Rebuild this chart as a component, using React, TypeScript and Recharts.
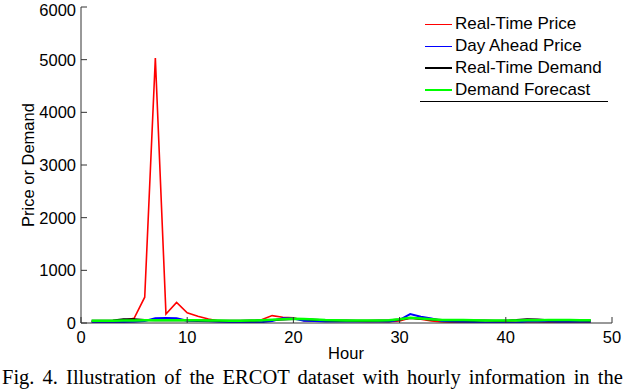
import { Legend, Line, LineChart, XAxis, YAxis } from "recharts";

const hours = Array.from({ length: 48 }, (_, i) => i + 1);

const realTimePrice = [
  20, 22, 25, 45, 90, 490, 5030, 170, 390, 195, 130, 75, 35, 30, 28, 27, 60, 140, 110, 100, 45, 40, 35, 33,
  32, 32, 30, 30, 25, 40, 95, 70, 40, 20, 15, 8, 6, 6, 10, 15, 20, 25, 20, 12, 6, 5, 6, 6,
];
const dayAheadPrice = [
  20, 18, 18, 20, 22, 40, 90, 95, 90, 45, 40, 35, 25, 20, 15, 13, 15, 40, 90, 85, 45, 40, 30, 30,
  30, 30, 30, 30, 30, 60, 170, 120, 85, 40, 30, 25, 20, 10, 6, 6, 8, 30, 30, 30, 25, 25, 25, 25,
];
const realTimeDemand = [
  42, 42, 48, 70, 70, 55, 52, 52, 52, 50, 48, 46, 45, 44, 44, 46, 50, 58, 68, 75, 74, 62, 53, 48,
  46, 45, 45, 46, 50, 68, 95, 80, 66, 55, 52, 52, 48, 46, 45, 45, 55, 70, 68, 52, 52, 52, 50, 48,
];
const demandForecast = [
  45, 44, 44, 46, 48, 50, 52, 53, 53, 52, 50, 48, 46, 45, 45, 47, 52, 60, 70, 80, 78, 65, 55, 50,
  48, 47, 47, 48, 52, 70, 100, 85, 70, 58, 55, 55, 50, 48, 47, 47, 48, 50, 52, 55, 55, 55, 52, 50,
];

const xTicks = [0, 10, 20, 30, 40, 50];
const topTicks = [20, 30, 40];
const yTicks = [0, 1000, 2000, 3000, 4000, 5000, 6000];

const data = hours.map((h, i) => ({
  hour: h,
  rtp: realTimePrice[i],
  dap: dayAheadPrice[i],
  rtd: realTimeDemand[i],
  df: demandForecast[i],
}));

const font = "'Liberation Sans', Arial, sans-serif";
const tickStyle = { fontSize: 16.5, fill: "#000", fontFamily: font };
const axisStroke = { stroke: "#333", strokeWidth: 1 };

// legend order and line weight as in the original figure
const legendOrder = ["rtp", "dap", "rtd", "df"];
const legendWidth: Record<string, number> = { rtp: 1, dap: 1, rtd: 2, df: 2 };

function LegendBox(props: any) {
  const items = [...(props.payload || [])].sort(
    (a: any, b: any) => legendOrder.indexOf(a.dataKey) - legendOrder.indexOf(b.dataKey)
  );
  return (
    <div
      style={{
        borderBottom: "1px solid #000",
        paddingTop: 13,
        fontFamily: font,
        fontSize: 17,
        color: "#000",
        lineHeight: "22px",
      }}
    >
      {items.map((it: any) => (
        <div key={it.dataKey} style={{ display: "flex", alignItems: "center", height: 22 }}>
          <div
            style={{
              width: 27,
              height: legendWidth[it.dataKey],
              background: it.color,
              marginLeft: 5,
              marginRight: 3,
            }}
          />
          <span>{it.value}</span>
        </div>
      ))}
    </div>
  );
}

export default function App() {
  return (
    <div style={{ position: "absolute", left: 0, top: 0, width: 640, height: 389, overflow: "hidden", background: "#fff" }}>
      <LineChart width={640} height={389} data={data} margin={{ top: 6, right: 28, bottom: 26, left: 0 }}>
        <XAxis
          dataKey="hour"
          type="number"
          domain={[0, 50]}
          ticks={xTicks}
          height={40}
          tick={tickStyle}
          tickSize={-6}
          tickMargin={14}
          axisLine={axisStroke}
          tickLine={axisStroke}
        />
        <XAxis
          xAxisId="top"
          orientation="top"
          dataKey="hour"
          type="number"
          domain={[0, 50]}
          ticks={topTicks}
          height={1}
          tick={false}
          tickSize={-6}
          axisLine={false}
          tickLine={axisStroke}
        />
        <YAxis
          type="number"
          domain={[0, 6000]}
          ticks={yTicks}
          width={81}
          tick={tickStyle}
          tickSize={-6}
          tickMargin={11}
          axisLine={axisStroke}
          tickLine={axisStroke}
          allowDataOverflow
        />
        <YAxis
          yAxisId="right"
          orientation="right"
          type="number"
          domain={[0, 6000]}
          ticks={yTicks}
          width={0}
          tick={false}
          tickSize={-6}
          axisLine={axisStroke}
          tickLine={axisStroke}
          allowDataOverflow
        />
        <Legend
          layout="horizontal"
          verticalAlign="middle"
          align="center"
          wrapperStyle={{ left: 420, top: 0, width: 188 }}
          content={LegendBox}
        />
        <Line dataKey="rtp" name="Real-Time Price" stroke="#ff0000" strokeWidth={1.6} dot={false} isAnimationActive={false} />
        <Line dataKey="dap" name="Day Ahead Price" stroke="#0000ff" strokeWidth={2} dot={false} isAnimationActive={false} />
        <Line
          dataKey="rtd"
          name="Real-Time Demand"
          xAxisId="top"
          stroke="#000000"
          strokeWidth={2}
          dot={false}
          isAnimationActive={false}
        />
        <Line
          dataKey="df"
          name="Demand Forecast"
          yAxisId="right"
          stroke="#00ff00"
          strokeWidth={2.5}
          dot={false}
          isAnimationActive={false}
        />
      </LineChart>
      <svg width={640} height={389} style={{ position: "absolute", left: 0, top: 0, pointerEvents: "none" }}>
        <text x={346} y={359} textAnchor="middle" fontFamily={font} fontSize={16.5} fill="#000">
          Hour
        </text>
        <text
          transform="translate(34,165) rotate(-90)"
          textAnchor="middle"
          fontFamily={font}
          fontSize={16.5}
          fill="#000"
        >
          Price or Demand
        </text>
        <text x={2} y={384} fontFamily="'Liberation Serif', 'Times New Roman', serif" fontSize={20.5} fill="#000" wordSpacing={3}>
          Fig. 4.  Illustration of the ERCOT dataset with hourly information in the
        </text>
      </svg>
    </div>
  );
}
